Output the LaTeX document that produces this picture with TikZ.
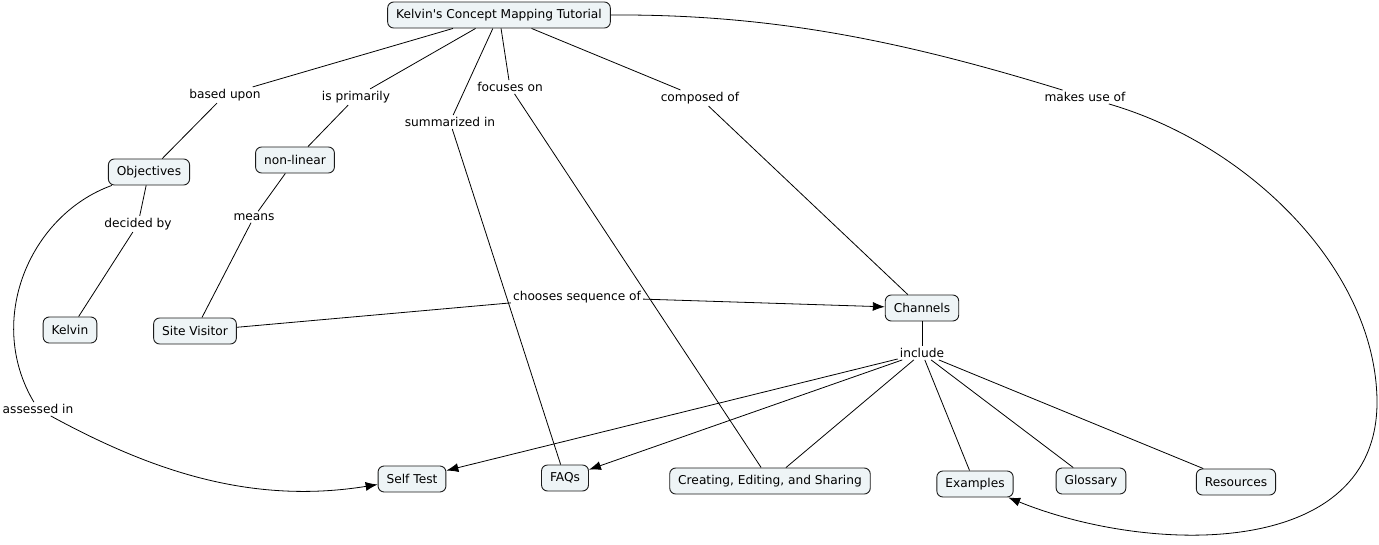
\documentclass[tikz,border=0pt]{standalone}
\usepackage{fontspec}
\setmainfont{DejaVu Sans}
\usepackage{xcolor}
\usepackage{tikz}
\usetikzlibrary{arrows.meta}
\definecolor{conceptfill}{HTML}{EEF4F6}
\definecolor{conceptline}{HTML}{1A1A1A}

\begin{document}
\begin{tikzpicture}[
    x=1pt, y=-1pt,
    every node/.style={
        font=\fontsize{12.2}{14}\selectfont,
        align=center
    },
    concept/.style={
        rectangle,
        rounded corners=6pt,
        draw=conceptline,
        line width=0.9pt,
        fill=conceptfill,
        inner xsep=8.5pt,
        minimum height=26pt
    },
    linkword/.style={
        inner sep=2pt,
        fill=white
    },
    link/.style={
        line width=0.8pt,
        color=black
    },
    arrow/.style={
        -{Latex[length=12pt,width=9pt]},
        line width=0.8pt,
        color=black
    }
]
\useasboundingbox (0,0) rectangle (1379,544);

% concepts
\node[concept] (tut) at (499,15) {Kelvin\textquotesingle s Concept Mapping Tutorial};
\node[concept] (obj) at (149,172) {Objectives};
\node[concept] (nl)  at (295,160) {non-linear};
\node[concept] (kel) at (70,330) {Kelvin};
\node[concept] (sv)  at (195,331) {Site Visitor};
\node[concept] (ch)  at (922,308) {Channels};
\node[concept] (st)  at (412,479) {Self Test};
\node[concept] (faq) at (565,478) {FAQs};
\node[concept] (ces) at (770,481) {Creating, Editing, and Sharing};
\node[concept] (ex)  at (975,484) {Examples};
\node[concept] (gl)  at (1091,481) {Glossary};
\node[concept] (res) at (1236,482) {Resources};

% linking phrases
\node[linkword] (bu)  at (225,95)  {based upon};
\node[linkword] (ip)  at (356,97)  {is primarily};
\node[linkword] (si)  at (450,122) {summarized in};
\node[linkword] (fo)  at (510,87)  {focuses on};
\node[linkword] (co)  at (700,98)  {composed of};
\node[linkword] (mu)  at (1085,97) {makes use of};
\node[linkword] (db)  at (138,224) {decided by};
\node[linkword] (me)  at (254,217) {means};
\node[linkword] (cs)  at (577,297) {chooses sequence of};
\node[linkword] (inc) at (922,353) {include};
\node[linkword] (as)  at (38,409)  {assessed in};

% from the tutorial
\draw[link] (tut) -- (bu);
\draw[link] (bu) -- (obj);
\draw[link] (tut) -- (ip);
\draw[link] (ip) -- (nl);
\draw[link] (tut) -- (si);
\draw[link] (si) -- (faq);
\draw[link] (tut) -- (fo);
\draw[link] (fo) -- (ces);
\draw[link] (tut) -- (co);
\draw[link] (co) -- (ch);
\draw[link] (tut.east) .. controls (770,14) and (900,40) .. (mu);
\draw[arrow] (mu) .. controls (1250,145) and (1375,270) .. (1377,400)
    .. controls (1379,560) and (1150,555) .. (ex);

% objectives
\draw[link] (obj) -- (db);
\draw[link] (db) -- (kel);
\draw[link] (obj) .. controls (30,215) and (-15,320) .. (as);
\draw[arrow] (as) .. controls (150,470) and (250,505) .. (st);

% non-linear
\draw[link] (nl) -- (me);
\draw[link] (me) -- (sv);
\draw[link] (sv) -- (cs);
\draw[arrow] (cs) -- (ch);

% channels
\draw[link] (ch) -- (inc);
\draw[arrow] (inc) -- (st);
\draw[arrow] (inc) -- (faq);
\draw[link] (inc) -- (ces);
\draw[link] (inc) -- (ex);
\draw[link] (inc) -- (gl);
\draw[link] (inc) -- (res);

\end{tikzpicture}
\end{document}
